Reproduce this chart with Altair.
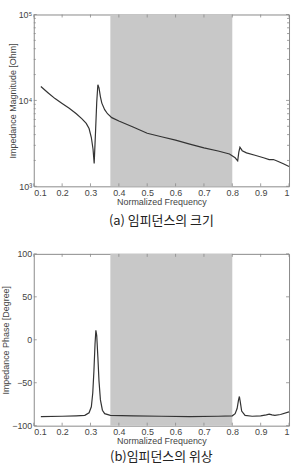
import altair as alt
import pandas as pd

# --- data ---
mag_freq = [0.125, 0.15, 0.175, 0.2, 0.225, 0.25, 0.27, 0.285, 0.295, 0.303, 0.309, 0.313,
            0.318, 0.322, 0.326, 0.33, 0.335, 0.34, 0.35, 0.36, 0.375, 0.4, 0.45, 0.5, 0.55,
            0.6, 0.65, 0.7, 0.75, 0.79, 0.81, 0.819, 0.823, 0.827, 0.835, 0.85, 0.88, 0.91,
            0.93, 0.945, 0.96, 0.98, 1.0]
mag_vals = [14500, 12300, 10500, 9200, 8100, 7000, 6100, 5400, 4700, 3700, 2700, 1850,
            4500, 9500, 15200, 14000, 11000, 9300, 7800, 7000, 6300, 5750, 4900, 4150, 3780,
            3450, 3100, 2800, 2580, 2380, 2150, 1980, 2500, 2850, 2600, 2450, 2300, 2150,
            2050, 2050, 1960, 1830, 1700]

ph_freq = [0.125, 0.2, 0.25, 0.28, 0.295, 0.303, 0.308, 0.312, 0.316, 0.319, 0.322, 0.326,
           0.33, 0.335, 0.342, 0.35, 0.37, 0.45, 0.55, 0.65, 0.75, 0.8, 0.81, 0.817, 0.822,
           0.825, 0.828, 0.833, 0.845, 0.87, 0.9, 0.92, 0.93, 0.94, 0.95, 0.97, 1.0]
ph_vals = [-89.5, -89, -88.5, -88, -85, -78, -62, -37, -5, 11, 5, -20,
           -48, -70, -82, -86, -88, -88.5, -89, -89.5, -89, -88.5, -86, -80, -70,
           -66, -72, -83, -88, -89, -88.5, -87.5, -86.5, -87.5, -88, -87, -84]

band_start = [0.37]
band_end = [0.80]

x_ticks = [0.1, 0.2, 0.3, 0.4, 0.5, 0.6, 0.7, 0.8, 0.9, 1.0]
mag_ticks_major = [1000, 10000, 100000]
mag_ticks_minor = [2000, 3000, 4000, 5000, 6000, 7000, 8000, 9000,
                   20000, 30000, 40000, 50000, 60000, 70000, 80000, 90000]
ph_ticks = [-100, -50, 0, 50, 100]

captions = ["(a) 임피던스의 크기", "(b)임피던스의 위상"]

W, H = 257, 173
FONT = "Liberation Sans"
LBL = "#444444"
FRAME = "#8a8a8a"

band_df = pd.DataFrame({"s": band_start, "e": band_end})
xt_df = pd.DataFrame({"x": x_ticks})

x_axis = alt.Axis(values=x_ticks, format=".1~f", title="Normalized Frequency",
                  tickSize=0, labelPadding=2, domain=False, grid=False,
                  labelFont=FONT, labelFontSize=9, labelColor=LBL,
                  titleFont=FONT, titleFontSize=9, titleColor=LBL,
                  titleFontWeight="normal", titlePadding=0)


def panel(line_df, yscale, yaxis, ytitle, ytick_df, ytick_df_minor, caption, cap_off):
    xscale = alt.Scale(domain=[0.1, 1.0], nice=False, zero=False)
    band = alt.Chart(band_df).mark_rect(color="#c8c8c8").encode(
        x=alt.X("s:Q", scale=xscale, axis=x_axis), x2="e:Q")
    line = alt.Chart(line_df).mark_line(color="#333333", strokeWidth=1.2).encode(
        x=alt.X("f:Q", scale=xscale, axis=x_axis),
        y=alt.Y("v:Q", scale=yscale, axis=yaxis, title=ytitle))
    layers = [band, line]
    layers.append(alt.Chart(xt_df).mark_rule(color=FRAME, strokeWidth=0.8).encode(
        x=alt.X("x:Q", scale=xscale, axis=x_axis), y=alt.value(H), y2=alt.value(H - 3)))
    layers.append(alt.Chart(xt_df).mark_rule(color=FRAME, strokeWidth=0.8).encode(
        x=alt.X("x:Q", scale=xscale, axis=x_axis), y=alt.value(0), y2=alt.value(3)))
    for df, ln in ((ytick_df, 3), (ytick_df_minor, 2)):
        if df is None:
            continue
        layers.append(alt.Chart(df).mark_rule(color=FRAME, strokeWidth=0.8).encode(
            y=alt.Y("y:Q", scale=yscale, axis=yaxis, title=ytitle),
            x=alt.value(0), x2=alt.value(ln)))
        layers.append(alt.Chart(df).mark_rule(color=FRAME, strokeWidth=0.8).encode(
            y=alt.Y("y:Q", scale=yscale, axis=yaxis, title=ytitle),
            x=alt.value(W), x2=alt.value(W - ln)))
    return alt.layer(*layers).properties(
        width=W, height=H,
        title=alt.TitleParams(caption, orient="bottom", font="Noto Sans CJK KR",
                              fontSize=13, fontWeight="normal", color="#222222",
                              offset=cap_off, lineHeight=13))


mag_df = pd.DataFrame({"f": mag_freq, "v": mag_vals})
ph_df = pd.DataFrame({"f": ph_freq, "v": ph_vals})

mag_axis = alt.Axis(values=mag_ticks_major,
                    labelExpr="datum.value == 1000 ? '10³' : (datum.value == 10000 ? '10⁴' : '10⁵')",
                    tickSize=0, labelPadding=2, domain=False, grid=False,
                    labelFont=FONT, labelFontSize=9, labelColor=LBL,
                    titleFont=FONT, titleFontSize=9, titleColor=LBL,
                    titleFontWeight="normal", titlePadding=1)
ph_axis = alt.Axis(values=ph_ticks, tickSize=0, labelPadding=2, domain=False, grid=False,
                   labelFont=FONT, labelFontSize=9, labelColor=LBL,
                   titleFont=FONT, titleFontSize=9, titleColor=LBL,
                   titleFontWeight="normal", titlePadding=1)

top = panel(mag_df, alt.Scale(type="log", domain=[1000, 100000], nice=False), mag_axis,
            "Impedance Magnitude [Ohm]",
            pd.DataFrame({"y": mag_ticks_major}), pd.DataFrame({"y": mag_ticks_minor}),
            captions[0], 9)
bottom = panel(ph_df, alt.Scale(domain=[-100, 100], nice=False, zero=False), ph_axis,
               "Impedance Phase [Degree]",
               pd.DataFrame({"y": ph_ticks}), None, captions[1], 6)

chart = alt.vconcat(top, bottom, spacing=68, bounds="flush").properties(
    padding={"left": 1, "top": 8, "right": 0, "bottom": 0},
    background="white",
).configure_view(stroke=FRAME, strokeWidth=1)

chart.save("out.html", embed_options={"renderer": "svg", "actions": False})
